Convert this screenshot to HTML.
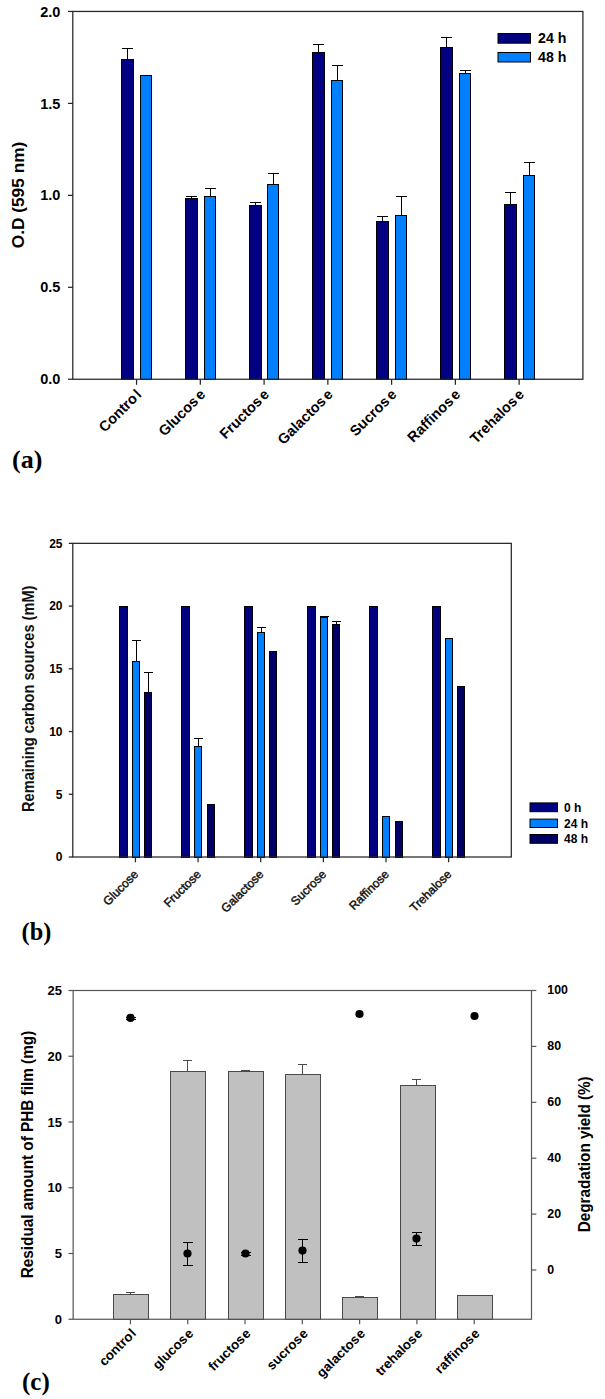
<!DOCTYPE html>
<html><head><meta charset="utf-8"><title>Figure</title>
<style>
html,body{margin:0;padding:0;background:#fff;}
body{width:605px;height:1399px;overflow:hidden;font-family:"Liberation Sans",sans-serif;}
svg{display:block;}
</style></head><body>
<svg width="605" height="1399" viewBox="0 0 605 1399">
<rect x="0" y="0" width="605" height="1399" fill="#fff"/>
<line x1="127.50" y1="48.50" x2="127.50" y2="59.20" stroke="#000" stroke-width="1" shape-rendering="crispEdges"/>
<line x1="122.00" y1="48.50" x2="133.00" y2="48.50" stroke="#000" stroke-width="1" shape-rendering="crispEdges"/>
<rect x="121.50" y="59.50" width="12.00" height="319.50" fill="#000080" stroke="#000" stroke-width="1" shape-rendering="crispEdges"/>
<rect x="140.50" y="75.50" width="11.00" height="303.50" fill="#0080ff" stroke="#000" stroke-width="1" shape-rendering="crispEdges"/>
<line x1="191.50" y1="196.50" x2="191.50" y2="197.70" stroke="#000" stroke-width="1" shape-rendering="crispEdges"/>
<line x1="186.00" y1="196.50" x2="197.00" y2="196.50" stroke="#000" stroke-width="1" shape-rendering="crispEdges"/>
<rect x="185.50" y="198.50" width="12.00" height="180.50" fill="#000080" stroke="#000" stroke-width="1" shape-rendering="crispEdges"/>
<line x1="210.00" y1="188.50" x2="210.00" y2="196.00" stroke="#000" stroke-width="1" shape-rendering="crispEdges"/>
<line x1="204.50" y1="188.50" x2="215.50" y2="188.50" stroke="#000" stroke-width="1" shape-rendering="crispEdges"/>
<rect x="204.50" y="196.50" width="11.00" height="182.50" fill="#0080ff" stroke="#000" stroke-width="1" shape-rendering="crispEdges"/>
<line x1="255.50" y1="202.50" x2="255.50" y2="204.80" stroke="#000" stroke-width="1" shape-rendering="crispEdges"/>
<line x1="250.00" y1="202.50" x2="261.00" y2="202.50" stroke="#000" stroke-width="1" shape-rendering="crispEdges"/>
<rect x="249.50" y="205.50" width="12.00" height="173.50" fill="#000080" stroke="#000" stroke-width="1" shape-rendering="crispEdges"/>
<line x1="273.00" y1="173.50" x2="273.00" y2="183.70" stroke="#000" stroke-width="1" shape-rendering="crispEdges"/>
<line x1="267.50" y1="173.50" x2="278.50" y2="173.50" stroke="#000" stroke-width="1" shape-rendering="crispEdges"/>
<rect x="267.50" y="184.50" width="11.00" height="194.50" fill="#0080ff" stroke="#000" stroke-width="1" shape-rendering="crispEdges"/>
<line x1="318.50" y1="44.50" x2="318.50" y2="51.80" stroke="#000" stroke-width="1" shape-rendering="crispEdges"/>
<line x1="313.00" y1="44.50" x2="324.00" y2="44.50" stroke="#000" stroke-width="1" shape-rendering="crispEdges"/>
<rect x="312.50" y="52.50" width="12.00" height="326.50" fill="#000080" stroke="#000" stroke-width="1" shape-rendering="crispEdges"/>
<line x1="337.00" y1="65.50" x2="337.00" y2="79.50" stroke="#000" stroke-width="1" shape-rendering="crispEdges"/>
<line x1="331.50" y1="65.50" x2="342.50" y2="65.50" stroke="#000" stroke-width="1" shape-rendering="crispEdges"/>
<rect x="331.50" y="80.50" width="11.00" height="298.50" fill="#0080ff" stroke="#000" stroke-width="1" shape-rendering="crispEdges"/>
<line x1="382.50" y1="216.50" x2="382.50" y2="221.20" stroke="#000" stroke-width="1" shape-rendering="crispEdges"/>
<line x1="377.00" y1="216.50" x2="388.00" y2="216.50" stroke="#000" stroke-width="1" shape-rendering="crispEdges"/>
<rect x="376.50" y="221.50" width="12.00" height="157.50" fill="#000080" stroke="#000" stroke-width="1" shape-rendering="crispEdges"/>
<line x1="401.00" y1="196.50" x2="401.00" y2="215.20" stroke="#000" stroke-width="1" shape-rendering="crispEdges"/>
<line x1="395.50" y1="196.50" x2="406.50" y2="196.50" stroke="#000" stroke-width="1" shape-rendering="crispEdges"/>
<rect x="395.50" y="215.50" width="11.00" height="163.50" fill="#0080ff" stroke="#000" stroke-width="1" shape-rendering="crispEdges"/>
<line x1="446.50" y1="37.50" x2="446.50" y2="47.00" stroke="#000" stroke-width="1" shape-rendering="crispEdges"/>
<line x1="441.00" y1="37.50" x2="452.00" y2="37.50" stroke="#000" stroke-width="1" shape-rendering="crispEdges"/>
<rect x="440.50" y="47.50" width="12.00" height="331.50" fill="#000080" stroke="#000" stroke-width="1" shape-rendering="crispEdges"/>
<line x1="465.00" y1="70.50" x2="465.00" y2="73.40" stroke="#000" stroke-width="1" shape-rendering="crispEdges"/>
<line x1="459.50" y1="70.50" x2="470.50" y2="70.50" stroke="#000" stroke-width="1" shape-rendering="crispEdges"/>
<rect x="459.50" y="73.50" width="11.00" height="305.50" fill="#0080ff" stroke="#000" stroke-width="1" shape-rendering="crispEdges"/>
<line x1="510.50" y1="192.50" x2="510.50" y2="203.60" stroke="#000" stroke-width="1" shape-rendering="crispEdges"/>
<line x1="505.00" y1="192.50" x2="516.00" y2="192.50" stroke="#000" stroke-width="1" shape-rendering="crispEdges"/>
<rect x="504.50" y="204.50" width="12.00" height="174.50" fill="#000080" stroke="#000" stroke-width="1" shape-rendering="crispEdges"/>
<line x1="529.00" y1="162.50" x2="529.00" y2="175.20" stroke="#000" stroke-width="1" shape-rendering="crispEdges"/>
<line x1="523.50" y1="162.50" x2="534.50" y2="162.50" stroke="#000" stroke-width="1" shape-rendering="crispEdges"/>
<rect x="523.50" y="175.50" width="11.00" height="203.50" fill="#0080ff" stroke="#000" stroke-width="1" shape-rendering="crispEdges"/>
<rect x="72.80" y="11.45" width="510.10" height="367.80" fill="none" stroke="#262626" stroke-width="1.25"/>
<line x1="68.00" y1="379.25" x2="72.80" y2="379.25" stroke="#262626" stroke-width="1.25"/>
<line x1="68.00" y1="287.30" x2="72.80" y2="287.30" stroke="#262626" stroke-width="1.25"/>
<line x1="68.00" y1="195.35" x2="72.80" y2="195.35" stroke="#262626" stroke-width="1.25"/>
<line x1="68.00" y1="103.40" x2="72.80" y2="103.40" stroke="#262626" stroke-width="1.25"/>
<line x1="68.00" y1="11.45" x2="72.80" y2="11.45" stroke="#262626" stroke-width="1.25"/>
<line x1="136.56" y1="379.25" x2="136.56" y2="384.80" stroke="#262626" stroke-width="1.25"/>
<line x1="200.32" y1="379.25" x2="200.32" y2="384.80" stroke="#262626" stroke-width="1.25"/>
<line x1="264.09" y1="379.25" x2="264.09" y2="384.80" stroke="#262626" stroke-width="1.25"/>
<line x1="327.85" y1="379.25" x2="327.85" y2="384.80" stroke="#262626" stroke-width="1.25"/>
<line x1="391.61" y1="379.25" x2="391.61" y2="384.80" stroke="#262626" stroke-width="1.25"/>
<line x1="455.38" y1="379.25" x2="455.38" y2="384.80" stroke="#262626" stroke-width="1.25"/>
<line x1="519.14" y1="379.25" x2="519.14" y2="384.80" stroke="#262626" stroke-width="1.25"/>
<rect x="498.00" y="33.50" width="32.50" height="9.70" fill="#000080" stroke="#000" stroke-width="1"/>
<rect x="498.00" y="52.50" width="32.50" height="9.50" fill="#0080ff" stroke="#000" stroke-width="1"/>
<text x="60.30" y="384.35" font-size="14.5" font-weight="bold" text-anchor="end" fill="#000" font-family="Liberation Sans, sans-serif">0.0</text>
<text x="60.30" y="292.40" font-size="14.5" font-weight="bold" text-anchor="end" fill="#000" font-family="Liberation Sans, sans-serif">0.5</text>
<text x="60.30" y="200.45" font-size="14.5" font-weight="bold" text-anchor="end" fill="#000" font-family="Liberation Sans, sans-serif">1.0</text>
<text x="60.30" y="108.50" font-size="14.5" font-weight="bold" text-anchor="end" fill="#000" font-family="Liberation Sans, sans-serif">1.5</text>
<text x="60.30" y="16.55" font-size="14.5" font-weight="bold" text-anchor="end" fill="#000" font-family="Liberation Sans, sans-serif">2.0</text>
<text x="538.00" y="43.00" font-size="14.2" font-weight="bold" text-anchor="start" fill="#000" font-family="Liberation Sans, sans-serif">24 h</text>
<text x="538.00" y="62.00" font-size="14.2" font-weight="bold" text-anchor="start" fill="#000" font-family="Liberation Sans, sans-serif">48 h</text>
<text x="142.36" y="395.40" font-size="14.5" font-weight="bold" text-anchor="end" fill="#000" font-family="Liberation Sans, sans-serif" transform="rotate(-45 142.36 395.40)">Contro<tspan dx="1.6">l</tspan></text>
<text x="206.12" y="395.40" font-size="14.5" font-weight="bold" text-anchor="end" fill="#000" font-family="Liberation Sans, sans-serif" transform="rotate(-45 206.12 395.40)">Glucos<tspan dx="1.6">e</tspan></text>
<text x="269.89" y="395.40" font-size="14.5" font-weight="bold" text-anchor="end" fill="#000" font-family="Liberation Sans, sans-serif" transform="rotate(-45 269.89 395.40)">Fructos<tspan dx="1.6">e</tspan></text>
<text x="333.65" y="395.40" font-size="14.5" font-weight="bold" text-anchor="end" fill="#000" font-family="Liberation Sans, sans-serif" transform="rotate(-45 333.65 395.40)">Galactos<tspan dx="1.6">e</tspan></text>
<text x="397.41" y="395.40" font-size="14.5" font-weight="bold" text-anchor="end" fill="#000" font-family="Liberation Sans, sans-serif" transform="rotate(-45 397.41 395.40)">Sucros<tspan dx="1.6">e</tspan></text>
<text x="461.18" y="395.40" font-size="14.5" font-weight="bold" text-anchor="end" fill="#000" font-family="Liberation Sans, sans-serif" transform="rotate(-45 461.18 395.40)">Raffinos<tspan dx="1.6">e</tspan></text>
<text x="524.94" y="395.40" font-size="14.5" font-weight="bold" text-anchor="end" fill="#000" font-family="Liberation Sans, sans-serif" transform="rotate(-45 524.94 395.40)">Trehalos<tspan dx="1.6">e</tspan></text>
<text x="24.10" y="195.00" font-size="17.3" font-weight="bold" text-anchor="middle" fill="#000" font-family="Liberation Sans, sans-serif" transform="rotate(-90 24.10 195.00)">O.D (595 nm)</text>
<text x="12.00" y="468.30" font-size="26" font-weight="bold" text-anchor="start" fill="#000" font-family="Liberation Serif, serif">(a)</text>
<rect x="119.50" y="606.50" width="8.00" height="250.50" fill="#000080" stroke="#000" stroke-width="1" shape-rendering="crispEdges"/>
<line x1="136.00" y1="640.50" x2="136.00" y2="661.30" stroke="#000" stroke-width="1" shape-rendering="crispEdges"/>
<line x1="131.50" y1="640.50" x2="140.50" y2="640.50" stroke="#000" stroke-width="1" shape-rendering="crispEdges"/>
<rect x="132.50" y="661.50" width="7.00" height="195.50" fill="#0080ff" stroke="#000" stroke-width="1" shape-rendering="crispEdges"/>
<line x1="148.00" y1="672.50" x2="148.00" y2="692.20" stroke="#000" stroke-width="1" shape-rendering="crispEdges"/>
<line x1="143.50" y1="672.50" x2="152.50" y2="672.50" stroke="#000" stroke-width="1" shape-rendering="crispEdges"/>
<rect x="144.50" y="692.50" width="7.00" height="164.50" fill="#000066" stroke="#000" stroke-width="1" shape-rendering="crispEdges"/>
<rect x="181.50" y="606.50" width="8.00" height="250.50" fill="#000080" stroke="#000" stroke-width="1" shape-rendering="crispEdges"/>
<line x1="198.00" y1="738.50" x2="198.00" y2="745.80" stroke="#000" stroke-width="1" shape-rendering="crispEdges"/>
<line x1="193.50" y1="738.50" x2="202.50" y2="738.50" stroke="#000" stroke-width="1" shape-rendering="crispEdges"/>
<rect x="194.50" y="746.50" width="7.00" height="110.50" fill="#0080ff" stroke="#000" stroke-width="1" shape-rendering="crispEdges"/>
<rect x="207.50" y="804.50" width="7.00" height="52.50" fill="#000066" stroke="#000" stroke-width="1" shape-rendering="crispEdges"/>
<rect x="244.50" y="606.50" width="8.00" height="250.50" fill="#000080" stroke="#000" stroke-width="1" shape-rendering="crispEdges"/>
<line x1="261.00" y1="627.50" x2="261.00" y2="631.50" stroke="#000" stroke-width="1" shape-rendering="crispEdges"/>
<line x1="256.50" y1="627.50" x2="265.50" y2="627.50" stroke="#000" stroke-width="1" shape-rendering="crispEdges"/>
<rect x="257.50" y="632.50" width="7.00" height="224.50" fill="#0080ff" stroke="#000" stroke-width="1" shape-rendering="crispEdges"/>
<rect x="269.50" y="651.50" width="7.00" height="205.50" fill="#000066" stroke="#000" stroke-width="1" shape-rendering="crispEdges"/>
<rect x="307.50" y="606.50" width="8.00" height="250.50" fill="#000080" stroke="#000" stroke-width="1" shape-rendering="crispEdges"/>
<line x1="324.00" y1="616.50" x2="324.00" y2="616.90" stroke="#000" stroke-width="1" shape-rendering="crispEdges"/>
<line x1="319.50" y1="616.50" x2="328.50" y2="616.50" stroke="#000" stroke-width="1" shape-rendering="crispEdges"/>
<rect x="320.50" y="617.50" width="7.00" height="239.50" fill="#0080ff" stroke="#000" stroke-width="1" shape-rendering="crispEdges"/>
<line x1="336.00" y1="621.50" x2="336.00" y2="624.40" stroke="#000" stroke-width="1" shape-rendering="crispEdges"/>
<line x1="331.50" y1="621.50" x2="340.50" y2="621.50" stroke="#000" stroke-width="1" shape-rendering="crispEdges"/>
<rect x="332.50" y="624.50" width="7.00" height="232.50" fill="#000066" stroke="#000" stroke-width="1" shape-rendering="crispEdges"/>
<rect x="369.50" y="606.50" width="8.00" height="250.50" fill="#000080" stroke="#000" stroke-width="1" shape-rendering="crispEdges"/>
<rect x="382.50" y="816.50" width="7.00" height="40.50" fill="#0080ff" stroke="#000" stroke-width="1" shape-rendering="crispEdges"/>
<rect x="395.50" y="821.50" width="7.00" height="35.50" fill="#000066" stroke="#000" stroke-width="1" shape-rendering="crispEdges"/>
<rect x="432.50" y="606.50" width="8.00" height="250.50" fill="#000080" stroke="#000" stroke-width="1" shape-rendering="crispEdges"/>
<rect x="445.50" y="638.50" width="7.00" height="218.50" fill="#0080ff" stroke="#000" stroke-width="1" shape-rendering="crispEdges"/>
<rect x="457.50" y="686.50" width="7.00" height="170.50" fill="#000066" stroke="#000" stroke-width="1" shape-rendering="crispEdges"/>
<rect x="72.80" y="543.35" width="438.50" height="313.65" fill="none" stroke="#262626" stroke-width="1.25"/>
<line x1="68.80" y1="857.00" x2="72.80" y2="857.00" stroke="#262626" stroke-width="1.25"/>
<line x1="68.80" y1="794.27" x2="72.80" y2="794.27" stroke="#262626" stroke-width="1.25"/>
<line x1="68.80" y1="731.54" x2="72.80" y2="731.54" stroke="#262626" stroke-width="1.25"/>
<line x1="68.80" y1="668.81" x2="72.80" y2="668.81" stroke="#262626" stroke-width="1.25"/>
<line x1="68.80" y1="606.08" x2="72.80" y2="606.08" stroke="#262626" stroke-width="1.25"/>
<line x1="68.80" y1="543.35" x2="72.80" y2="543.35" stroke="#262626" stroke-width="1.25"/>
<line x1="135.44" y1="857.00" x2="135.44" y2="862.30" stroke="#262626" stroke-width="1.25"/>
<line x1="198.09" y1="857.00" x2="198.09" y2="862.30" stroke="#262626" stroke-width="1.25"/>
<line x1="260.73" y1="857.00" x2="260.73" y2="862.30" stroke="#262626" stroke-width="1.25"/>
<line x1="323.37" y1="857.00" x2="323.37" y2="862.30" stroke="#262626" stroke-width="1.25"/>
<line x1="386.01" y1="857.00" x2="386.01" y2="862.30" stroke="#262626" stroke-width="1.25"/>
<line x1="448.66" y1="857.00" x2="448.66" y2="862.30" stroke="#262626" stroke-width="1.25"/>
<rect x="530.00" y="802.90" width="27.50" height="8.80" fill="#000080" stroke="#000" stroke-width="1"/>
<rect x="530.00" y="819.10" width="27.50" height="8.40" fill="#0080ff" stroke="#000" stroke-width="1"/>
<rect x="530.00" y="834.50" width="27.50" height="8.80" fill="#000066" stroke="#000" stroke-width="1"/>
<text x="62.50" y="861.40" font-size="12" font-weight="bold" text-anchor="end" fill="#000" font-family="Liberation Sans, sans-serif">0</text>
<text x="62.50" y="798.67" font-size="12" font-weight="bold" text-anchor="end" fill="#000" font-family="Liberation Sans, sans-serif">5</text>
<text x="62.50" y="735.94" font-size="12" font-weight="bold" text-anchor="end" fill="#000" font-family="Liberation Sans, sans-serif">10</text>
<text x="62.50" y="673.21" font-size="12" font-weight="bold" text-anchor="end" fill="#000" font-family="Liberation Sans, sans-serif">15</text>
<text x="62.50" y="610.48" font-size="12" font-weight="bold" text-anchor="end" fill="#000" font-family="Liberation Sans, sans-serif">20</text>
<text x="62.50" y="547.75" font-size="12" font-weight="bold" text-anchor="end" fill="#000" font-family="Liberation Sans, sans-serif">25</text>
<text x="564.00" y="811.50" font-size="12" font-weight="bold" text-anchor="start" fill="#000" font-family="Liberation Sans, sans-serif">0 h</text>
<text x="564.00" y="827.50" font-size="12" font-weight="bold" text-anchor="start" fill="#000" font-family="Liberation Sans, sans-serif">24 h</text>
<text x="564.00" y="843.20" font-size="12" font-weight="bold" text-anchor="start" fill="#000" font-family="Liberation Sans, sans-serif">48 h</text>
<text x="139.04" y="875.00" font-size="12" font-weight="normal" text-anchor="end" fill="#111" font-family="Liberation Sans, sans-serif" transform="rotate(-45 139.04 875.00)" stroke="#111" stroke-width="0.45">Glucose</text>
<text x="201.69" y="875.00" font-size="12" font-weight="normal" text-anchor="end" fill="#111" font-family="Liberation Sans, sans-serif" transform="rotate(-45 201.69 875.00)" stroke="#111" stroke-width="0.45">Fructose</text>
<text x="264.33" y="875.00" font-size="12" font-weight="normal" text-anchor="end" fill="#111" font-family="Liberation Sans, sans-serif" transform="rotate(-45 264.33 875.00)" stroke="#111" stroke-width="0.45">Galactose</text>
<text x="326.97" y="875.00" font-size="12" font-weight="normal" text-anchor="end" fill="#111" font-family="Liberation Sans, sans-serif" transform="rotate(-45 326.97 875.00)" stroke="#111" stroke-width="0.45">Sucrose</text>
<text x="389.61" y="875.00" font-size="12" font-weight="normal" text-anchor="end" fill="#111" font-family="Liberation Sans, sans-serif" transform="rotate(-45 389.61 875.00)" stroke="#111" stroke-width="0.45">Raffinose</text>
<text x="452.26" y="875.00" font-size="12" font-weight="normal" text-anchor="end" fill="#111" font-family="Liberation Sans, sans-serif" transform="rotate(-45 452.26 875.00)" stroke="#111" stroke-width="0.45">Trehalose</text>
<text x="34.30" y="698.80" font-size="15.6" font-weight="bold" text-anchor="middle" fill="#111" font-family="Liberation Sans, sans-serif" transform="rotate(-90 34.30 698.80)" textLength="226.5" lengthAdjust="spacingAndGlyphs">Remaining carbon sources (mM)</text>
<text x="21.60" y="940.00" font-size="24.3" font-weight="bold" text-anchor="start" fill="#000" font-family="Liberation Serif, serif">(b)</text>
<line x1="130.50" y1="1292.50" x2="130.50" y2="1293.70" stroke="#4a4a4a" stroke-width="1" shape-rendering="crispEdges"/>
<line x1="126.00" y1="1292.50" x2="135.00" y2="1292.50" stroke="#4a4a4a" stroke-width="1" shape-rendering="crispEdges"/>
<rect x="113.50" y="1294.50" width="35.00" height="24.50" fill="#c0c0c0" stroke="#4a4a4a" stroke-width="1" shape-rendering="crispEdges"/>
<line x1="187.50" y1="1060.50" x2="187.50" y2="1071.20" stroke="#4a4a4a" stroke-width="1" shape-rendering="crispEdges"/>
<line x1="183.00" y1="1060.50" x2="192.00" y2="1060.50" stroke="#4a4a4a" stroke-width="1" shape-rendering="crispEdges"/>
<rect x="170.50" y="1071.50" width="35.00" height="247.50" fill="#c0c0c0" stroke="#4a4a4a" stroke-width="1" shape-rendering="crispEdges"/>
<line x1="245.50" y1="1070.50" x2="245.50" y2="1071.00" stroke="#4a4a4a" stroke-width="1" shape-rendering="crispEdges"/>
<line x1="241.00" y1="1070.50" x2="250.00" y2="1070.50" stroke="#4a4a4a" stroke-width="1" shape-rendering="crispEdges"/>
<rect x="228.50" y="1071.50" width="35.00" height="247.50" fill="#c0c0c0" stroke="#4a4a4a" stroke-width="1" shape-rendering="crispEdges"/>
<line x1="302.50" y1="1064.50" x2="302.50" y2="1073.50" stroke="#4a4a4a" stroke-width="1" shape-rendering="crispEdges"/>
<line x1="298.00" y1="1064.50" x2="307.00" y2="1064.50" stroke="#4a4a4a" stroke-width="1" shape-rendering="crispEdges"/>
<rect x="285.50" y="1074.50" width="35.00" height="244.50" fill="#c0c0c0" stroke="#4a4a4a" stroke-width="1" shape-rendering="crispEdges"/>
<line x1="359.50" y1="1296.50" x2="359.50" y2="1297.00" stroke="#4a4a4a" stroke-width="1" shape-rendering="crispEdges"/>
<line x1="355.00" y1="1296.50" x2="364.00" y2="1296.50" stroke="#4a4a4a" stroke-width="1" shape-rendering="crispEdges"/>
<rect x="342.50" y="1297.50" width="35.00" height="21.50" fill="#c0c0c0" stroke="#4a4a4a" stroke-width="1" shape-rendering="crispEdges"/>
<line x1="416.50" y1="1079.50" x2="416.50" y2="1085.40" stroke="#4a4a4a" stroke-width="1" shape-rendering="crispEdges"/>
<line x1="412.00" y1="1079.50" x2="421.00" y2="1079.50" stroke="#4a4a4a" stroke-width="1" shape-rendering="crispEdges"/>
<rect x="400.50" y="1085.50" width="35.00" height="233.50" fill="#c0c0c0" stroke="#4a4a4a" stroke-width="1" shape-rendering="crispEdges"/>
<rect x="457.50" y="1295.50" width="35.00" height="23.50" fill="#c0c0c0" stroke="#4a4a4a" stroke-width="1" shape-rendering="crispEdges"/>
<rect x="73.15" y="990.50" width="458.35" height="328.75" fill="none" stroke="#555" stroke-width="1.2"/>
<line x1="68.50" y1="1319.25" x2="73.15" y2="1319.25" stroke="#555" stroke-width="1.2"/>
<line x1="68.50" y1="1253.50" x2="73.15" y2="1253.50" stroke="#555" stroke-width="1.2"/>
<line x1="68.50" y1="1187.75" x2="73.15" y2="1187.75" stroke="#555" stroke-width="1.2"/>
<line x1="68.50" y1="1122.00" x2="73.15" y2="1122.00" stroke="#555" stroke-width="1.2"/>
<line x1="68.50" y1="1056.25" x2="73.15" y2="1056.25" stroke="#555" stroke-width="1.2"/>
<line x1="68.50" y1="990.50" x2="73.15" y2="990.50" stroke="#555" stroke-width="1.2"/>
<line x1="531.50" y1="1270.00" x2="536.30" y2="1270.00" stroke="#555" stroke-width="1.2"/>
<line x1="531.50" y1="1214.10" x2="536.30" y2="1214.10" stroke="#555" stroke-width="1.2"/>
<line x1="531.50" y1="1158.20" x2="536.30" y2="1158.20" stroke="#555" stroke-width="1.2"/>
<line x1="531.50" y1="1102.30" x2="536.30" y2="1102.30" stroke="#555" stroke-width="1.2"/>
<line x1="531.50" y1="1046.40" x2="536.30" y2="1046.40" stroke="#555" stroke-width="1.2"/>
<line x1="531.50" y1="990.50" x2="536.30" y2="990.50" stroke="#555" stroke-width="1.2"/>
<line x1="130.44" y1="1319.25" x2="130.44" y2="1324.30" stroke="#555" stroke-width="1.2"/>
<line x1="187.74" y1="1319.25" x2="187.74" y2="1324.30" stroke="#555" stroke-width="1.2"/>
<line x1="245.03" y1="1319.25" x2="245.03" y2="1324.30" stroke="#555" stroke-width="1.2"/>
<line x1="302.33" y1="1319.25" x2="302.33" y2="1324.30" stroke="#555" stroke-width="1.2"/>
<line x1="359.62" y1="1319.25" x2="359.62" y2="1324.30" stroke="#555" stroke-width="1.2"/>
<line x1="416.91" y1="1319.25" x2="416.91" y2="1324.30" stroke="#555" stroke-width="1.2"/>
<line x1="474.21" y1="1319.25" x2="474.21" y2="1324.30" stroke="#555" stroke-width="1.2"/>
<line x1="130.50" y1="1016.70" x2="130.50" y2="1019.10" stroke="#000" stroke-width="1" shape-rendering="crispEdges"/>
<line x1="125.50" y1="1017.50" x2="135.50" y2="1017.50" stroke="#000" stroke-width="1" shape-rendering="crispEdges"/>
<line x1="125.50" y1="1019.50" x2="135.50" y2="1019.50" stroke="#000" stroke-width="1" shape-rendering="crispEdges"/>
<circle cx="130.50" cy="1017.90" r="4.1" fill="#000"/>
<line x1="187.50" y1="1241.60" x2="187.50" y2="1265.40" stroke="#000" stroke-width="1" shape-rendering="crispEdges"/>
<line x1="182.50" y1="1242.50" x2="192.50" y2="1242.50" stroke="#000" stroke-width="1" shape-rendering="crispEdges"/>
<line x1="182.50" y1="1265.50" x2="192.50" y2="1265.50" stroke="#000" stroke-width="1" shape-rendering="crispEdges"/>
<circle cx="187.50" cy="1253.50" r="4.1" fill="#000"/>
<line x1="245.50" y1="1252.30" x2="245.50" y2="1254.70" stroke="#000" stroke-width="1" shape-rendering="crispEdges"/>
<line x1="240.50" y1="1252.50" x2="250.50" y2="1252.50" stroke="#000" stroke-width="1" shape-rendering="crispEdges"/>
<line x1="240.50" y1="1255.50" x2="250.50" y2="1255.50" stroke="#000" stroke-width="1" shape-rendering="crispEdges"/>
<circle cx="245.50" cy="1253.50" r="4.1" fill="#000"/>
<line x1="302.50" y1="1239.10" x2="302.50" y2="1262.10" stroke="#000" stroke-width="1" shape-rendering="crispEdges"/>
<line x1="297.50" y1="1239.50" x2="307.50" y2="1239.50" stroke="#000" stroke-width="1" shape-rendering="crispEdges"/>
<line x1="297.50" y1="1262.50" x2="307.50" y2="1262.50" stroke="#000" stroke-width="1" shape-rendering="crispEdges"/>
<circle cx="302.50" cy="1250.60" r="4.1" fill="#000"/>
<circle cx="359.50" cy="1014.00" r="4.1" fill="#000"/>
<line x1="416.50" y1="1232.20" x2="416.50" y2="1245.00" stroke="#000" stroke-width="1" shape-rendering="crispEdges"/>
<line x1="411.50" y1="1232.50" x2="421.50" y2="1232.50" stroke="#000" stroke-width="1" shape-rendering="crispEdges"/>
<line x1="411.50" y1="1245.50" x2="421.50" y2="1245.50" stroke="#000" stroke-width="1" shape-rendering="crispEdges"/>
<circle cx="416.50" cy="1238.60" r="4.1" fill="#000"/>
<circle cx="474.50" cy="1016.00" r="4.1" fill="#000"/>
<text x="62.00" y="1323.85" font-size="13" font-weight="bold" text-anchor="end" fill="#000" font-family="Liberation Sans, sans-serif">0</text>
<text x="62.00" y="1258.10" font-size="13" font-weight="bold" text-anchor="end" fill="#000" font-family="Liberation Sans, sans-serif">5</text>
<text x="62.00" y="1192.35" font-size="13" font-weight="bold" text-anchor="end" fill="#000" font-family="Liberation Sans, sans-serif">10</text>
<text x="62.00" y="1126.60" font-size="13" font-weight="bold" text-anchor="end" fill="#000" font-family="Liberation Sans, sans-serif">15</text>
<text x="62.00" y="1060.85" font-size="13" font-weight="bold" text-anchor="end" fill="#000" font-family="Liberation Sans, sans-serif">20</text>
<text x="62.00" y="995.10" font-size="13" font-weight="bold" text-anchor="end" fill="#000" font-family="Liberation Sans, sans-serif">25</text>
<text x="547.30" y="1273.80" font-size="12.4" font-weight="bold" text-anchor="start" fill="#000" font-family="Liberation Sans, sans-serif">0</text>
<text x="547.30" y="1217.90" font-size="12.4" font-weight="bold" text-anchor="start" fill="#000" font-family="Liberation Sans, sans-serif">20</text>
<text x="547.30" y="1162.00" font-size="12.4" font-weight="bold" text-anchor="start" fill="#000" font-family="Liberation Sans, sans-serif">40</text>
<text x="547.30" y="1106.10" font-size="12.4" font-weight="bold" text-anchor="start" fill="#000" font-family="Liberation Sans, sans-serif">60</text>
<text x="547.30" y="1050.20" font-size="12.4" font-weight="bold" text-anchor="start" fill="#000" font-family="Liberation Sans, sans-serif">80</text>
<text x="547.30" y="994.30" font-size="12.4" font-weight="bold" text-anchor="start" fill="#000" font-family="Liberation Sans, sans-serif">100</text>
<text x="136.84" y="1334.20" font-size="13.3" font-weight="bold" text-anchor="end" fill="#000" font-family="Liberation Sans, sans-serif" transform="rotate(-45 136.84 1334.20)">contro<tspan dx="0.8">l</tspan></text>
<text x="194.14" y="1334.20" font-size="13.3" font-weight="bold" text-anchor="end" fill="#000" font-family="Liberation Sans, sans-serif" transform="rotate(-45 194.14 1334.20)">glucos<tspan dx="0.8">e</tspan></text>
<text x="251.43" y="1334.20" font-size="13.3" font-weight="bold" text-anchor="end" fill="#000" font-family="Liberation Sans, sans-serif" transform="rotate(-45 251.43 1334.20)">fructos<tspan dx="0.8">e</tspan></text>
<text x="308.73" y="1334.20" font-size="13.3" font-weight="bold" text-anchor="end" fill="#000" font-family="Liberation Sans, sans-serif" transform="rotate(-45 308.73 1334.20)">sucros<tspan dx="0.8">e</tspan></text>
<text x="366.02" y="1334.20" font-size="13.3" font-weight="bold" text-anchor="end" fill="#000" font-family="Liberation Sans, sans-serif" transform="rotate(-45 366.02 1334.20)">galactos<tspan dx="0.8">e</tspan></text>
<text x="423.31" y="1334.20" font-size="13.3" font-weight="bold" text-anchor="end" fill="#000" font-family="Liberation Sans, sans-serif" transform="rotate(-45 423.31 1334.20)">trehalos<tspan dx="0.8">e</tspan></text>
<text x="480.61" y="1334.20" font-size="13.3" font-weight="bold" text-anchor="end" fill="#000" font-family="Liberation Sans, sans-serif" transform="rotate(-45 480.61 1334.20)">raffinos<tspan dx="0.8">e</tspan></text>
<text x="33.20" y="1154.50" font-size="16" font-weight="bold" text-anchor="middle" fill="#000" font-family="Liberation Sans, sans-serif" transform="rotate(-90 33.20 1154.50)" textLength="247.5" lengthAdjust="spacingAndGlyphs">Residual amount of PHB film (mg)</text>
<text x="590.40" y="1154.30" font-size="16" font-weight="bold" text-anchor="middle" fill="#000" font-family="Liberation Sans, sans-serif" transform="rotate(-90 590.40 1154.30)" textLength="156" lengthAdjust="spacingAndGlyphs">Degradation yield (%)</text>
<text x="22.00" y="1389.80" font-size="25" font-weight="bold" text-anchor="start" fill="#000" font-family="Liberation Serif, serif">(c)</text>
</svg>
</body></html>
